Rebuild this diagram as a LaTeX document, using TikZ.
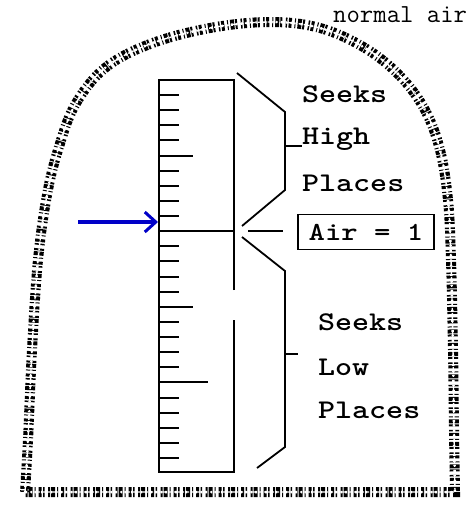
\documentclass[tikz,border=0pt]{standalone}
\usepackage{graphicx}
\usetikzlibrary{arrows.meta}
\tikzset{
  lbl/.style={anchor=west, inner sep=0pt, font=\fontsize{27}{29}\selectfont\ttfamily\bfseries},
  rulerline/.style={line width=1.8pt},
  noise/.style={line width=10pt, dash pattern=on 1.5pt off 1.5pt on 3pt off 3pt on 1pt off 2pt on 4pt off 1pt on 2pt off 3.5pt},
}
\newcommand{\wide}[1]{\scalebox{1.2}[1]{#1}}
\begin{document}
\begin{tikzpicture}[line cap=butt,line join=miter,x=1pt,y=-1pt]
				\useasboundingbox (0,0) rectangle (468,519);
				\fill[white] (0,0) rectangle (468,519);
				% Rand
				\def\rand{(25,492) (28,440) (32,350) (38,260) (47,195) (58,150) (75,105) (105,68) (150,44) (210,28) (270,22) (320,28) (365,48) (400,76) (425,110) (440,150) (448,200) (451,260) (453,350) (454,430) (455,492)}
				\draw[noise] plot[smooth, tension=0.6] coordinates {\rand} -- cycle;
				\draw[white, line width=1.4pt, dash pattern=on 6pt off 2pt on 2pt off 3pt on 3pt off 2pt] plot[smooth, tension=0.6] coordinates {\rand} -- cycle;
				\draw[white, line width=2.5pt, dash pattern=on 1pt off 4pt on 2pt off 3pt] plot[smooth, tension=0.6] coordinates {\rand} -- cycle;
				\node[lbl, font=\fontsize{26}{28}\selectfont\ttfamily] (normal) at (333,15) {normal air};
				% Lineal
				\draw[rulerline] (234,290)--(234,80)--(159,80)--(159,472)--(234,472)--(234,320);
				\foreach \i in {0,...,24}{
					\pgfmathsetmacro{\yy}{round(95+15.125*\i)}
					\pgfmathsetmacro{\ll}{ifthenelse(\i==9,75,ifthenelse(\i==19,49,ifthenelse(\i==4||\i==14,34,20)))}
					\draw[rulerline] (159,\yy)--++(\ll,0);
				}
				% Klammer oben
				\draw[rulerline] (237,73)--(285,112)--(285,190)--(242,226);
				\draw[rulerline] (285,146)--(302,146);
				\draw[rulerline] (248,231)--(283,231);
				% Klammer unten
				\draw[rulerline] (242,237)--(285,271)--(285,447)--(257,468);
				\draw[rulerline] (285,354)--(298,354);
				% Texte
				\node[lbl] (seeksH) at (302,94) {\wide{Seeks}};
				\node[lbl] (high) at (302,139) {\wide{High}};
				\node[lbl] (placesH) at (302,183) {\wide{Places}};
				\node[draw, rulerline, minimum width=136pt, minimum height=35pt, inner sep=0pt, font=\fontsize{26}{28}\selectfont\ttfamily\bfseries] (air) at (366,232) {\wide{Air = 1}};
				\node[lbl] (seeksL) at (318,322) {\wide{Seeks}};
				\node[lbl] (low) at (318,367) {\wide{Low}};
				\node[lbl] (placesL) at (318,410) {\wide{Places}};
				% Pfeil
				\coordinate (tail) at (78,222);
				\coordinate (tip) at (158,222);
				\draw[color={rgb,255:red,0;green,0;blue,200}, line width=3.5pt, -{Straight Barb[length=11pt,width=20pt,line width=3pt]}] (tail)--(tip);
		\end{tikzpicture}
\end{document}
